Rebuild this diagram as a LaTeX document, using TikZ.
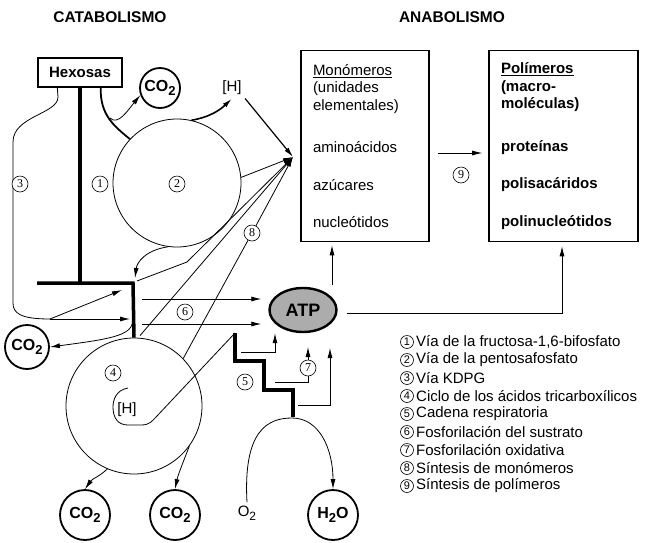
\documentclass[tikz,border=0pt]{standalone}
\usepackage{fontspec}
\setmainfont{Liberation Sans}
\newfontfamily\numfont{Liberation Serif}
\usetikzlibrary{arrows.meta, shapes.geometric, calc}

\newcommand{\cotwo}{CO\raisebox{-4pt}{\fontsize{13}{13}\selectfont 2}}
\newcommand{\htwoo}{H\raisebox{-4pt}{\fontsize{13}{13}\selectfont 2}O}

\begin{document}
\begin{tikzpicture}[
  x=1pt, y=-1pt,
  heading/.style={font=\fontsize{15.5}{18}\selectfont\bfseries},
  sbox/.style={draw, line width=1.4pt, minimum width=84pt, minimum height=29pt, inner sep=0pt, font=\fontsize{15}{18}\selectfont\bfseries},
  bigbox/.style={draw, line width=1.6pt, minimum height=191pt, align=left, inner xsep=12pt, font=\fontsize{15}{17.5}\selectfont},
  molec/.style={draw, circle, line width=1.8pt, inner sep=0pt, font=\fontsize{16}{18}\selectfont\bfseries},
  cyc/.style={draw, circle, line width=0.8pt, inner sep=0pt},
  num/.style={draw, circle, line width=0.6pt, inner sep=0pt, minimum size=16pt, fill=white, font=\numfont\fontsize{12}{12}\selectfont},
  lnum/.style={draw, circle, line width=0.6pt, inner sep=0pt, minimum size=13pt, font=\fontsize{11}{11}\selectfont},
  legend/.style={anchor=west, inner sep=0pt, font=\fontsize{15}{17}\selectfont},
  atpnode/.style={draw, ellipse, line width=2.4pt, fill=gray!65, minimum width=67pt, minimum height=44pt, inner sep=0pt, font=\fontsize{18}{18}\selectfont\bfseries},
  arrow/.style={-{Latex[length=10pt,width=5pt]}, line width=0.8pt},
  link/.style={line width=0.8pt},
  chain/.style={line width=3.5pt}
]
  \useasboundingbox (0,0) rectangle (665,542);

  % Headings
  \node[heading] (catab) at (110,17) {CATABOLISMO};
  \node[heading] (anab)  at (452,17) {ANABOLISMO};

  % Boxes
  \node[sbox] (hex) at (80,72.5) {Hexosas};
  \node[bigbox, text width=104pt] (mono) at (365,146) {\underline{Monómeros}\\(unidades\\elementales)\\[25pt]aminoácidos\\[20pt]azúcares\\[20pt]nucleótidos};
  \node[bigbox, text width=125pt, font=\fontsize{15}{17.5}\selectfont\bfseries] (poly) at (563.5,146) {\underline{Polímeros}\\(macro-\\moléculas)\\[25pt]proteínas\\[20pt]polisacáridos\\[20pt]polinucleótidos};

  % Cycles
  \node[cyc, minimum size=128pt] (c2) at (177,183) {};
  \node[cyc, minimum size=136pt] (c4) at (134,406) {};
  \node[atpnode] (atp) at (303,310) {ATP};

  % Molecules
  \node[molec, minimum size=40pt] (co2a) at (160,88) {\cotwo};
  \node[molec, minimum size=44pt] (co2b) at (27,347) {\cotwo};
  \node[molec, minimum size=50pt] (co2c) at (85,515) {\cotwo};
  \node[molec, minimum size=50pt] (co2d) at (175,515) {\cotwo};
  \node[molec, minimum size=50pt] (h2o)  at (333,515) {\htwoo};
  \node[font=\fontsize{15}{18}\selectfont] (o2) at (247,513) {O\raisebox{-4pt}{\fontsize{12}{12}\selectfont 2}};
  \node[font=\fontsize{15}{18}\selectfont] (hA) at (232,88) {[H]};
  \node[font=\fontsize{15}{18}\selectfont] (hB) at (127,410) {[H]};

  % Free ends
  \coordinate (tipM)  at (293,157);
  \coordinate (barL)  at (37,283);
  \coordinate (barR)  at (133,283);
  \coordinate (split) at (50,319);
  \coordinate (s0)    at (235,333);
  \coordinate (s1)    at (293,417);

  % Glycolysis trunk
  \draw[chain] (hex.south) -- (hex.south |- barR);
  \draw[chain] (barL) -- (barR) -- (c4.north);
  \draw[line width=1.8pt] ($(hex.south east)+(-22,0)$) .. controls (100,115) and (114,126) .. (c2.137);
  \draw[arrow] (110,118) .. controls (118,126) and (128,110) .. (co2a.-160);
  \draw[arrow, line width=1.6pt] (c2.77) .. controls (210,117) and (220,110) .. (hA.south);
  \draw[arrow] (c2.-98) .. controls (146,250) and (137,262) .. ($(barR)+(2,-5)$);

  % KDPG
  \draw[link] ($(hex.south west)+(20,0)$) -- (58,97) .. controls (58,114) and (13,116) .. (13,142) -- (13,303) .. controls (13,313) and (20,319) .. (split);
  \draw[arrow] (split) -- (130,319);
  \draw[arrow] (split) -- (122,290);
  \draw[arrow] (133,322) .. controls (130,336) and (110,339) .. (co2b.east);

  % Monomer synthesis
  \draw[arrow, line width=1.2pt] (hA.south east) -- (tipM);
  \draw[arrow] (c2.5) -- (tipM);
  \draw[arrow] ($(barR)+(4,-2)$) -- (187,262) -- (tipM);
  \draw[arrow] ($(c4.north)+(6,-2)$) -- (tipM);
  \node[num] (n8) at (252,233) {8};
  \draw[link] (c4.44) -- (n8);
  \draw[arrow] (n8) -- (tipM);

  % Substrate phosphorylation
  \draw[arrow] (142,299) -- ([xshift=-7pt, yshift=11pt]atp.west);
  \draw[arrow] (142,324) -- ([xshift=-7pt, yshift=-14pt]atp.west);
  \node[num] (n6) at (185,312) {6};

  % Krebs cycle
  \draw[link] (128,388) .. controls (116,390) and (113,400) .. (113,407) .. controls (113,418) and (118,425) .. (128,425) -- (141,425) .. controls (150,425) and (152,421) .. (157,416) -- (s0);
  \draw[arrow] (c4.-113) .. controls (100,476) and (92,479) .. (co2c.north);
  \draw[arrow] (c4.-36) .. controls (182,465) and (178,475) .. (co2d.north);

  % Respiratory chain
  \draw[chain] (s0) |- (264,361) |- (293,390) -- (s1);
  \draw[arrow] (241,352) -| ([xshift=-28pt]atp.south);
  \node[num] (n7) at (308,368) {7};
  \draw[link] (275,382) -| (n7);
  \draw[arrow] (n7) -- ++(0,-21);
  \draw[arrow] (298,405) -| (330,348);
  \draw[arrow] (o2.north) .. controls (243,430) and (268,418) .. (292,418) .. controls (320,418) and (333,450) .. (h2o.north);

  % Anabolism
  \draw[arrow] (332,285) -- ([xshift=-33pt, yshift=-3pt]mono.south);
  \draw[arrow] ([xshift=9pt, yshift=-3pt]atp.east) -| ([xshift=-1.5pt, yshift=-4pt]poly.south);
  \draw[arrow] ([xshift=8pt, yshift=-7pt]mono.east) -- ([xshift=-6pt, yshift=-7pt]poly.west);
  \node[num] (n9) at (461,175) {9};

  % Pathway labels
  \node[num] (n1) at (100,184) {1};
  \node[num] (n2) at (177,184) {2};
  \node[num] (n3) at (20,184) {3};
  \node[num] (n4) at (113,373) {4};
  \node[num] (n5) at (245,382) {5};

  % Legend
  \node[lnum] (l1) at (407,342) {1};
  \node[legend] (t1) at (416,342) {Vía de la fructosa-1,6-bifosfato};
  \node[lnum] (l2) at (407,360) {2};
  \node[legend] (t2) at (416,360) {Vía de la pentosafosfato};
  \node[lnum] (l3) at (407,378) {3};
  \node[legend] (t3) at (416,378) {Vía KDPG};
  \node[lnum] (l4) at (407,396) {4};
  \node[legend] (t4) at (416,396) {Ciclo de los ácidos tricarboxílicos};
  \node[lnum] (l5) at (407,414) {5};
  \node[legend] (t5) at (416,414) {Cadena respiratoria};
  \node[lnum] (l6) at (407,432) {6};
  \node[legend] (t6) at (416,432) {Fosforilación del sustrato};
  \node[lnum] (l7) at (407,450) {7};
  \node[legend] (t7) at (416,450) {Fosforilación oxidativa};
  \node[lnum] (l8) at (407,468) {8};
  \node[legend] (t8) at (416,468) {Síntesis de monómeros};
  \node[lnum] (l9) at (407,486) {9};
  \node[legend] (t9) at (416,486) {Síntesis de polímeros};
\end{tikzpicture}
\end{document}
